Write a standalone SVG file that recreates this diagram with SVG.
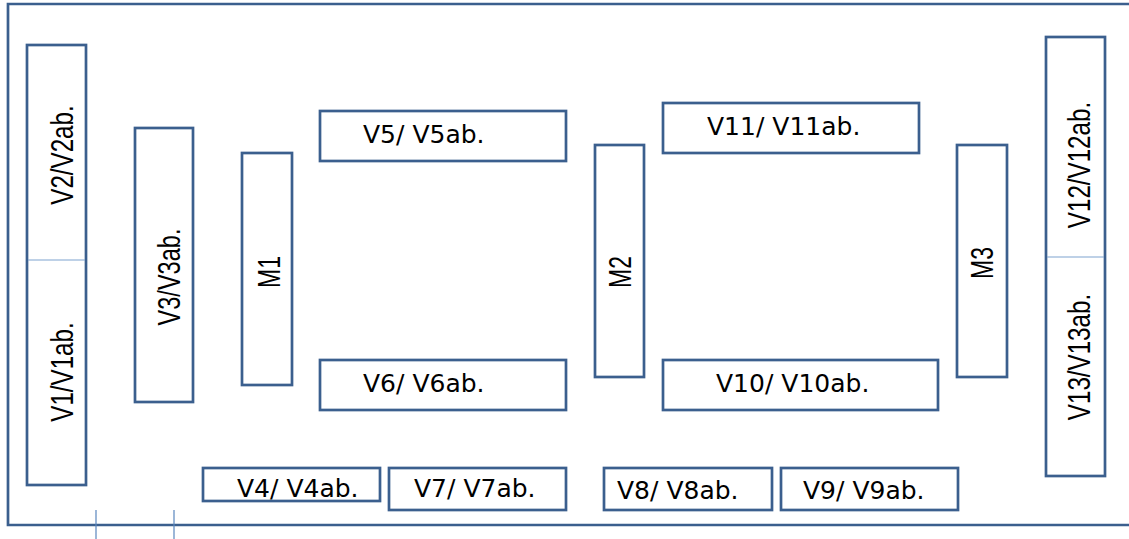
<svg xmlns="http://www.w3.org/2000/svg" width="1129" height="539" viewBox="0 0 1129 539">
<style>
.b{fill:#fff;stroke:#3B5F8E;stroke-width:2.7}
.t{font-family:"DejaVu Sans",sans-serif;font-size:25px;fill:#000}
.r{font-family:"Liberation Sans",Arial,sans-serif;font-size:31px;fill:#000;text-anchor:middle}
.d{stroke:#7FA3CF;stroke-width:1.2}
</style>
<rect width="1129" height="539" fill="#fff"/>
<g id="frame">
<path d="M1135,4 H8 V525 H1135" fill="none" stroke="#3B5F8E" stroke-width="2.7"/>
</g>
<g id="connectors">
<line x1="96" y1="510" x2="96" y2="539" stroke="#5A86BE" stroke-width="1.2"/>
<line x1="174" y1="510" x2="174" y2="539" stroke="#5A86BE" stroke-width="1.2"/>
</g>
<g id="v1v2">
<rect class="b" x="27" y="45" width="59" height="440"/>
<line class="d" x1="28" y1="260" x2="85" y2="260"/>
<text class="r" transform="translate(73,155) rotate(-90) scale(0.78,1)">V2/V2ab.</text>
<text class="r" transform="translate(73,372) rotate(-90) scale(0.78,1)">V1/V1ab.</text>
</g>
<g id="v3">
<rect class="b" x="135" y="128" width="58" height="274"/>
<text class="r" transform="translate(180,277) rotate(-90) scale(0.76,1)">V3/V3ab.</text>
</g>
<g id="m1">
<rect class="b" x="242" y="153" width="50" height="232"/>
<text class="r" transform="translate(280,272) rotate(-90) scale(0.74,1)">M1</text>
</g>
<g id="v5">
<rect class="b" x="320" y="111" width="246" height="50"/>
<text class="t" x="363" y="143">V5/ V5ab.</text>
</g>
<g id="v6">
<rect class="b" x="320" y="360" width="246" height="50"/>
<text class="t" x="363" y="392">V6/ V6ab.</text>
</g>
<g id="m2">
<rect class="b" x="595" y="145" width="49" height="232"/>
<text class="r" transform="translate(631,272) rotate(-90) scale(0.74,1)">M2</text>
</g>
<g id="v11">
<rect class="b" x="663" y="103" width="256" height="50"/>
<text class="t" x="707" y="135">V11/ V11ab.</text>
</g>
<g id="v10">
<rect class="b" x="663" y="360" width="275" height="50"/>
<text class="t" x="716" y="392">V10/ V10ab.</text>
</g>
<g id="m3">
<rect class="b" x="957" y="145" width="50" height="232"/>
<text class="r" transform="translate(993,263) rotate(-90) scale(0.74,1)">M3</text>
</g>
<g id="v12v13">
<rect class="b" x="1046" y="37" width="59" height="439"/>
<line class="d" x1="1047" y1="257" x2="1104" y2="257"/>
<text class="r" transform="translate(1090,165) rotate(-90) scale(0.78,1)">V12/V12ab.</text>
<text class="r" transform="translate(1090,357) rotate(-90) scale(0.78,1)">V13/V13ab.</text>
</g>
<g id="v4">
<rect class="b" x="203" y="468" width="177" height="33"/>
<text class="t" x="237" y="497">V4/ V4ab.</text>
</g>
<g id="v7">
<rect class="b" x="389" y="468" width="177" height="42"/>
<text class="t" x="414" y="497">V7/ V7ab.</text>
</g>
<g id="v8">
<rect class="b" x="604" y="468" width="168" height="42"/>
<text class="t" x="617" y="499">V8/ V8ab.</text>
</g>
<g id="v9">
<rect class="b" x="781" y="468" width="177" height="42"/>
<text class="t" x="803" y="499">V9/ V9ab.</text>
</g>
</svg>
